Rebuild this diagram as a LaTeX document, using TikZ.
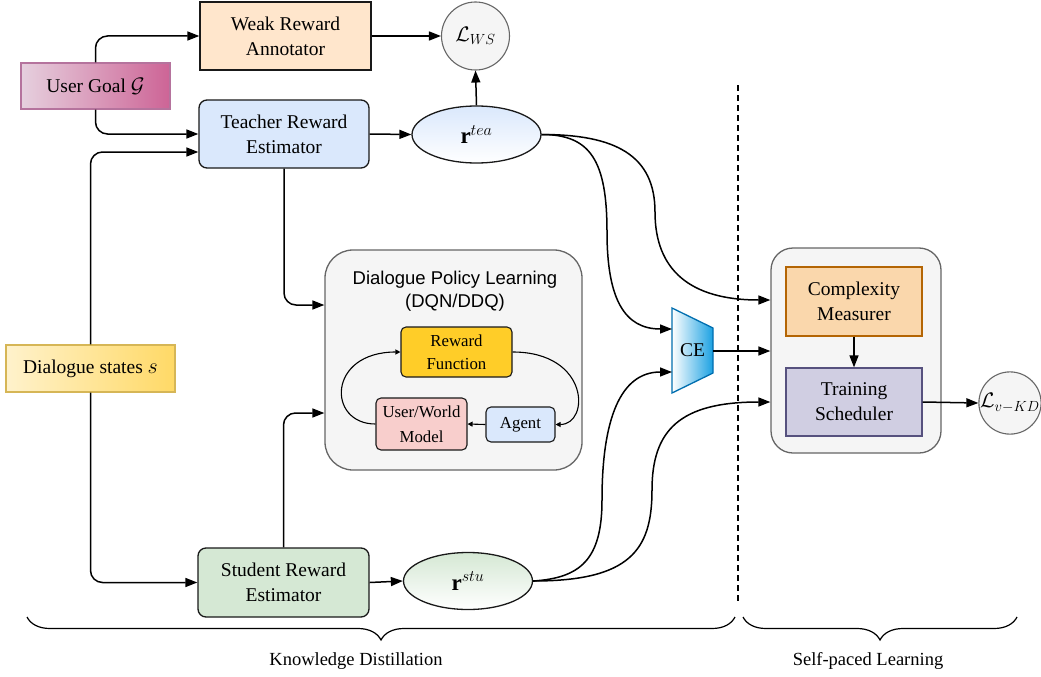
\RequirePackage{fix-cm}
\documentclass[tikz,border=0pt]{standalone}
\usepackage{fontspec}
\setmainfont{Liberation Serif}
\setsansfont{Liberation Sans}
\usetikzlibrary{arrows.meta,decorations.pathreplacing,shapes.geometric,calc}
\definecolor{weakfill}{HTML}{FFE6CC}
\definecolor{goalL}{HTML}{E6D0DE}
\definecolor{goalR}{HTML}{CD6496}
\definecolor{goalborder}{HTML}{B5739D}
\definecolor{bluefill}{HTML}{DAE8FC}
\definecolor{grayfill}{HTML}{F5F5F5}
\definecolor{grayborder}{HTML}{666666}
\definecolor{rffill}{HTML}{FFCD28}
\definecolor{uwmfill}{HTML}{F8CECC}
\definecolor{statesL}{HTML}{FFF2CC}
\definecolor{statesR}{HTML}{FFD966}
\definecolor{statesborder}{HTML}{D6B656}
\definecolor{greenfill}{HTML}{D5E8D4}
\definecolor{ceblue}{HTML}{1BA1E2}
\definecolor{ceborder}{HTML}{006EAF}
\definecolor{cmfill}{HTML}{FAD7AC}
\definecolor{cmborder}{HTML}{B46504}
\definecolor{tsfill}{HTML}{D0CEE2}
\definecolor{tsborder}{HTML}{56517E}
\newcommand\fmain{\fontsize{19.5}{25}\selectfont}
\newcommand\fmath{\fontsize{23}{25}\selectfont}
\newcommand\floss{\fontsize{21}{25}\selectfont}
\newcommand\fsmall{\fontsize{16.8}{23}\selectfont}
\newcommand\fsans{\sffamily\fontsize{18.5}{23}\selectfont}
\newcommand\flabel{\fontsize{18.5}{22}\selectfont}
\tikzset{
  box/.style={draw=black!90, line width=1.3pt, align=center, font=\fmain, inner sep=0pt},
  rbox/.style={box, rounded corners=8pt},
  sbox/.style={draw=black!90, line width=1.1pt, align=center, font=\fsmall, inner sep=0pt, rounded corners=5pt},
  container/.style={draw=grayborder, fill=grayfill, line width=1.3pt},
  lossc/.style={circle, draw=grayborder, fill=grayfill, line width=1.1pt, inner sep=0pt, font=\floss},
  oval/.style={ellipse, draw=black!90, line width=1.3pt, inner sep=0pt, font=\fmath},
  arr/.style={-{Triangle[length=12pt,width=9pt]}, line width=1.5pt, black},
  sarr/.style={-{Triangle[length=5pt,width=5pt]}, line width=1.1pt, black},
  bracestyle/.style={decorate, decoration={brace, mirror, amplitude=23pt}, line width=1.2pt, black}
}
\begin{document}
\begin{tikzpicture}[x=1pt,y=-1pt]
\useasboundingbox (0,0) rectangle (1041,677);

% containers
\node[container, rounded corners=28pt, minimum width=257pt, minimum height=220pt, inner sep=0pt] (dpl) at (453.5,360) {};
\node[font=\fsans, align=center] (dpltitle) at (455,291.5) {Dialogue Policy Learning\\(DQN/DDQ)};
\node[container, rounded corners=22pt, minimum width=170pt, minimum height=205pt, inner sep=0pt] (spl) at (856,350.5) {};

% nodes
\node[box, fill=weakfill, minimum width=171pt, minimum height=68pt] (weak) at (285.5,36) {Weak Reward\\Annotator};
\node[lossc, minimum size=68pt] (lws) at (475.5,36) {$\mathcal{L}_{WS}$};
\node[box, draw=goalborder, left color=goalL, right color=goalR, minimum width=149pt, minimum height=46pt] (goal) at (95.5,86) {User Goal {\fontsize{21}{25}\selectfont$\mathcal{G}$}};
\node[rbox, fill=bluefill, minimum width=170pt, minimum height=68pt] (teacher) at (284,134) {Teacher Reward\\Estimator};
\node[oval, top color=bluefill, bottom color=white, minimum width=129pt, minimum height=57pt] (rtea) at (476.5,134.5) {$\mathbf{r}^{tea}$};
\node[box, draw=statesborder, left color=statesL, right color=statesR, minimum width=169pt, minimum height=47pt] (states) at (90.5,368.5) {Dialogue states {\fontsize{22}{25}\selectfont$s$}};
\node[rbox, fill=greenfill, minimum width=171pt, minimum height=69pt] (student) at (283.5,582.5) {Student Reward\\Estimator};
\node[oval, top color=greenfill, bottom color=white, minimum width=129pt, minimum height=57pt] (rstu) at (468,581) {$\mathbf{r}^{stu}$};

% inner boxes
\node[sbox, fill=rffill, minimum width=111pt, minimum height=50pt] (rf) at (456.5,352) {Reward\\Function};
\node[sbox, fill=uwmfill, minimum width=91pt, minimum height=52pt, font=\fontsize{16.8}{25}\selectfont] (uwm) at (421.5,424) {User/World\\Model};
\node[sbox, fill=bluefill, minimum width=69pt, minimum height=35pt] (agent) at (520.5,424.5) {Agent};

% CE trapezoid
\draw[draw=ceborder, line width=1.3pt, left color=white, right color=ceblue] (672,308) -- (713,328) -- (713,373) -- (672,393) -- cycle;
\node[font=\fmain] (CE) at (692.5,350.5) {CE};
\coordinate (CEin1) at (672,329);
\coordinate (CEin2) at (672,372);
\coordinate (CEout) at (713,351);

% self-paced boxes
\node[box, draw=cmborder, fill=cmfill, minimum width=136pt, minimum height=69pt] (cm) at (854,301.5) {Complexity\\Measurer};
\node[box, draw=tsborder, fill=tsfill, minimum width=136pt, minimum height=68pt] (ts) at (854,402) {Training\\Scheduler};
\node[lossc, minimum size=61pt] (lkd) at (1010,403) {$\mathcal{L}_{v-KD}$};

% dashed separator
\coordinate (dtop) at (738,85);
\coordinate (dbot) at (738,603);
\draw[dashed, dash pattern=on 6pt off 4pt, line width=1.4pt] (dtop) -- (dbot);

% connectors
\draw[arr, rounded corners=12pt] (goal.north) |- (weak.west);
\draw[arr, rounded corners=12pt] (goal.south) |- (teacher.west);
\draw[arr] (weak.east) -- (lws.west);
\draw[arr] (teacher.east) -- (rtea.west);
\draw[arr] (rtea.north) -- (lws.south);
\draw[arr, rounded corners=12pt] (teacher.south) |- ([yshift=55pt]dpl.west);
\draw[arr, rounded corners=12pt] (student.north) |- ([yshift=-53pt]dpl.west);
\draw[arr, rounded corners=12pt] (states.north) |- ([yshift=-18pt]teacher.west);
\draw[arr, rounded corners=12pt] (states.south) |- (student.west);
\draw[arr] (student.east) -- (rstu.west);

\draw[arr] (rtea.east) .. controls (590,134.5) and (607,160) .. (607,232) .. controls (607,300) and (625,329) .. (CEin1);
\draw[arr] (rtea.east) .. controls (615,134.5) and (655,155) .. (655,212) .. controls (655,270) and (690,300) .. ([yshift=50.5pt]spl.west);
\draw[arr] (rstu.east) .. controls (580,578) and (602,560) .. (602,500) .. controls (602,420) and (620,372) .. (CEin2);
\draw[arr] (rstu.east) .. controls (630,581) and (652,550) .. (652,490) .. controls (652,430) and (680,402) .. ([yshift=-51.5pt]spl.west);
\draw[arr] (CEout) -- (CEout -| spl.west);
\draw[arr] (cm.south) -- (ts.north);
\draw[arr] (ts.east) -- (lkd.west);

% inner loop
\draw[sarr] (agent.west) -- (uwm.east);
\draw[sarr] (uwm.west) .. controls (327,424) and (327,352) .. (rf.west);
\draw[sarr] (rf.east) .. controls (590,352) and (590,424.5) .. (agent.east);

% braces
\coordinate (b1l) at (27,617);
\coordinate (b1r) at (735,617);
\coordinate (b2l) at (743,617);
\coordinate (b2r) at (1017,617);
\draw[bracestyle] (b1l) -- (b1r);
\draw[bracestyle] (b2l) -- (b2r);
\node[font=\flabel] (kd) at (356,661) {Knowledge Distillation};
\node[font=\flabel] (sp) at (868,661) {Self-paced Learning};
\end{tikzpicture}
\end{document}
